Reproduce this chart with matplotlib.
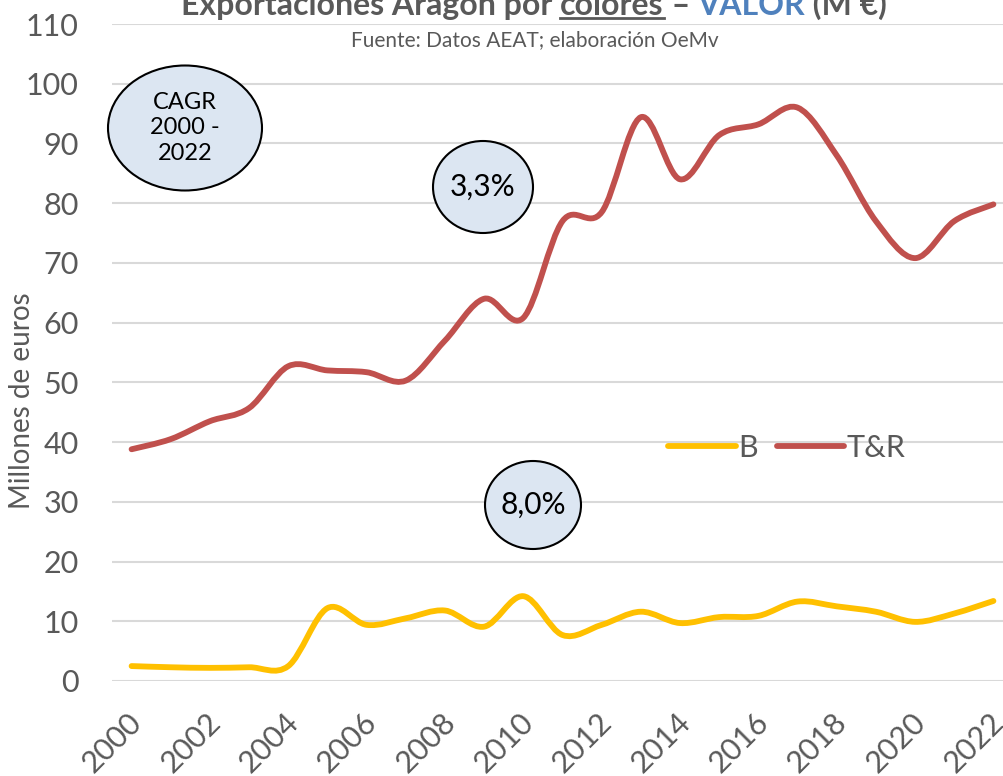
import numpy as np
import matplotlib
matplotlib.use("Agg")
import matplotlib.pyplot as plt
from matplotlib.path import Path
from matplotlib.patches import PathPatch, Ellipse
from matplotlib.lines import Line2D
from matplotlib.transforms import ScaledTranslation

plt.rcParams['font.family'] = ['Lato', 'DejaVu Sans']

years = list(range(2000, 2023))
b_values = [2.5, 2.3, 2.2, 2.3, 2.5, 12.2, 9.4, 10.5, 11.8, 9.1, 14.2, 7.7,
            9.4, 11.6, 9.7, 10.7, 10.9, 13.3, 12.5, 11.6, 9.9, 11.3, 13.4]
tr_values = [38.8, 40.5, 43.5, 45.7, 52.7, 52.0, 51.7, 50.3, 57.0, 64.0, 60.8, 77.0,
             78.5, 94.4, 84.0, 91.4, 93.2, 96.0, 88.0, 77.0, 70.8, 77.0, 79.8]
series_names = ['B', 'T&R']
colors = ['#FFC000', '#C0504D']
cagr = ['8,0%', '3,3%']

GRAY = '#595959'


def smooth_path(x, y):
    # Excel-like smoothed line: cubic bezier segments through every point
    x = np.asarray(x, float)
    y = np.asarray(y, float)
    px = np.concatenate([[x[0]], x, [x[-1]]])
    py = np.concatenate([[y[0]], y, [y[-1]]])
    verts = [(x[0], y[0])]
    codes = [Path.MOVETO]
    for i in range(1, len(px) - 2):
        c1 = (px[i] + (px[i + 1] - px[i - 1]) / 6, py[i] + (py[i + 1] - py[i - 1]) / 6)
        c2 = (px[i + 1] - (px[i + 2] - px[i]) / 6, py[i + 1] - (py[i + 2] - py[i]) / 6)
        verts += [c1, c2, (px[i + 1], py[i + 1])]
        codes += [Path.CURVE4] * 3
    return Path(verts, codes)


fig = plt.figure(figsize=(10.04, 7.76), dpi=100)
ax = fig.add_axes([112 / 1004, 95 / 776, 901 / 1004, 657 / 776])

xi = np.arange(len(years))
for vals, col in zip([b_values, tr_values], colors):
    ax.add_patch(PathPatch(smooth_path(xi, vals), facecolor='none', edgecolor=col,
                           lw=4.2, capstyle='round', joinstyle='round', zorder=3))

ax.set_xlim(-0.5, len(years) - 0.5)
ax.set_ylim(0, 110)
ax.set_yticks(range(0, 111, 10))
ax.set_xticks(xi[::2])
ax.set_xticklabels([str(y) for y in years[::2]], rotation=45, ha='right',
                   rotation_mode='anchor')
ax.tick_params(axis='both', length=0, labelsize=22, labelcolor=GRAY)
ax.tick_params(axis='x', pad=19)
ax.tick_params(axis='y', pad=24)
shift = ScaledTranslation(-4 / 100, 0, fig.dpi_scale_trans)
for lbl in ax.get_xticklabels():
    lbl.set_transform(lbl.get_transform() + shift)
ax.grid(axis='y', color='#D9D9D9', lw=1.5)
ax.set_axisbelow(True)
for s in ax.spines.values():
    s.set_visible(False)

fig.text(22 / 1004, 1 - 401 / 776, 'Millones de euros', rotation=90, ha='center',
         va='center', fontsize=20, color=GRAY)

fig.text(535 / 1004, 1 - 40 / 776, 'Fuente: Datos AEAT; elaboración OeMv', ha='center',
         va='center', fontsize=15, color=GRAY)

# legend
handles = [Line2D([], [], color=c, lw=4.2, solid_capstyle='round') for c in colors]
fig.legend(handles, series_names, loc='center', bbox_to_anchor=(787 / 1004, 1 - 448 / 776),
           ncol=2, frameon=False, fontsize=22, handlelength=2.2, handletextpad=0.1,
           columnspacing=0.6, labelcolor=GRAY)

# CAGR bubbles
def bubble(cx, cy, w, h, txt, size):
    fig.patches.append(Ellipse((cx / 1004, 1 - cy / 776), w / 1004, h / 776,
                               transform=fig.transFigure, facecolor='#DCE6F2',
                               edgecolor='black', lw=1.5))
    fig.text(cx / 1004, 1 - cy / 776, txt, ha='center', va='center', fontsize=size,
             color='black', linespacing=1.25)

bubble(185, 128, 154, 125, 'CAGR\n2000 -\n2022', 17)
bubble(483, 187, 100, 92, cagr[1], 21.5)
bubble(533, 505, 96, 88, cagr[0], 21.5)

# title, partly cut by the top edge
parts = [('Exportaciones Aragón por ', GRAY), ('colores', GRAY), (' – ', GRAY),
         ('VALOR', '#4F81BD'), (' (M €)', GRAY)]
fig.canvas.draw()
r = fig.canvas.get_renderer()
texts = [fig.text(0, 0, p, fontsize=28, fontweight='bold', color=c, va='baseline')
         for p, c in parts]
total = sum(t.get_window_extent(r).width for t in texts)
tsize = 28 * 706 / total
for t in texts:
    t.set_fontsize(tsize)
widths = [t.get_window_extent(r).width for t in texts]
x0 = 534 - sum(widths) / 2
yb = 1 - 15 / 776
for t, w in zip(texts, widths):
    t.set_position((x0 / 1004, yb))
    if t.get_text() == 'colores':
        fig.add_artist(Line2D([x0 / 1004, (x0 + w) / 1004], [1 - 18 / 776] * 2,
                              transform=fig.transFigure, color=GRAY, lw=2))
    x0 += w

fig.savefig('out.png', dpi=100)
